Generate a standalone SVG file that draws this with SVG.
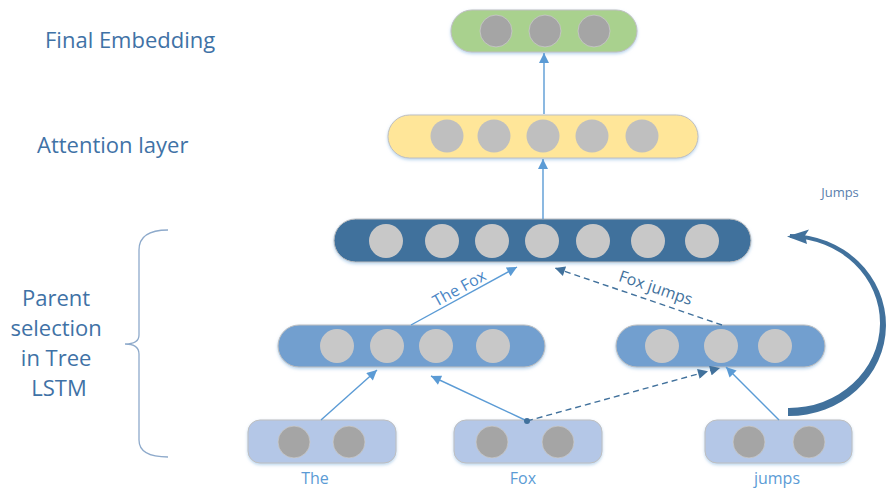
<svg xmlns="http://www.w3.org/2000/svg" width="886" height="489" viewBox="0 0 886 489">
  <defs>
    <filter id="glow" x="-10%" y="-30%" width="120%" height="170%">
      <feDropShadow dx="0" dy="1.5" stdDeviation="1.5" flood-color="#9dc3e6" flood-opacity="0.7"/>
    </filter>
    <marker id="headLight" viewBox="0 0 10 10" refX="10" refY="5" markerWidth="11" markerHeight="10" markerUnits="userSpaceOnUse" orient="auto">
      <path d="M0,0 L10,5 L0,10 Z" fill="#5b9bd5"/>
    </marker>
    <marker id="headDark" viewBox="0 0 10 10" refX="10" refY="5" markerWidth="12" markerHeight="10" markerUnits="userSpaceOnUse" orient="auto">
      <path d="M0,0 L10,5 L0,10 Z" fill="#41719c"/>
    </marker>
  </defs>
  <style>
    .lbl { font-family: "Open Sans", "Liberation Sans", sans-serif; fill: #3f72a6; font-size: 22px; }
    .word { font-family: "Open Sans", "Liberation Sans", sans-serif; fill: #5b9bd5; font-size: 16px; text-anchor: middle; }
    .edge { font-family: "Open Sans", "Liberation Sans", sans-serif; font-size: 16px; text-anchor: middle; }
    .pill { stroke: #bfbfbf; stroke-width: 1; filter: url(#glow); }
    .dotA { fill: #a5a5a5; stroke: #c9c9c9; stroke-width: 0.8; }
    .dotB { fill: #c8c8c8; }
    .solid { fill: none; stroke: #5b9bd5; stroke-width: 1.4; }
    .dash { fill: none; stroke: #41719c; stroke-width: 1.4; stroke-dasharray: 6 4; }
  </style>

  <rect width="886" height="489" fill="#ffffff"/>

  <!-- side captions -->
  <text class="lbl" x="45" y="48">Final Embedding</text>
  <text class="lbl" x="37" y="153">Attention layer</text>
  <text class="lbl" text-anchor="middle">
    <tspan x="59" y="306">Parent</tspan>
    <tspan x="59" y="336">selection</tspan>
    <tspan x="59" y="366">in Tree</tspan>
    <tspan x="59" y="396">LSTM</tspan>
  </text>
  <path d="M168,230 Q139,230 139,250 L139,335 Q139,344 125,344 Q139,344 139,354 L139,440 Q139,457 168,457" fill="none" stroke="#8eaacb" stroke-width="1.3"/>

  <!-- final embedding -->
  <g id="final">
    <rect class="pill" x="451" y="10" width="186" height="42" rx="21" fill="#a9d18e"/>
    <circle class="dotA" cx="496" cy="31" r="16"/>
    <circle class="dotA" cx="545" cy="31" r="16"/>
    <circle class="dotA" cx="594" cy="31" r="16"/>
  </g>

  <!-- attention layer -->
  <g id="attention">
    <rect class="pill" x="388" y="115" width="310" height="43" rx="21.5" fill="#ffe699"/>
    <circle cx="447" cy="136" r="16.5" fill="#bfbfbf"/>
    <circle cx="494" cy="136" r="16.5" fill="#bfbfbf"/>
    <circle cx="543" cy="136" r="16.5" fill="#bfbfbf"/>
    <circle cx="592" cy="136" r="16.5" fill="#bfbfbf"/>
    <circle cx="642" cy="136" r="16.5" fill="#bfbfbf"/>
  </g>

  <!-- root node -->
  <g id="root">
    <rect class="pill" x="334" y="219" width="417" height="43" rx="21.5" fill="#41719c" stroke="#41719c"/>
    <circle class="dotB" cx="386" cy="241" r="17"/>
    <circle class="dotB" cx="442" cy="241" r="17"/>
    <circle class="dotB" cx="492" cy="241" r="17"/>
    <circle class="dotB" cx="542" cy="241" r="17"/>
    <circle class="dotB" cx="593" cy="241" r="17"/>
    <circle class="dotB" cx="648" cy="241" r="17"/>
    <circle class="dotB" cx="702" cy="241" r="17"/>
  </g>

  <!-- "The Fox" parent -->
  <g id="theFox">
    <rect class="pill" x="278" y="325" width="267" height="42" rx="21" fill="#729fcf"/>
    <circle class="dotB" cx="337" cy="346" r="17"/>
    <circle class="dotB" cx="387" cy="346" r="17"/>
    <circle class="dotB" cx="436" cy="346" r="17"/>
    <circle class="dotB" cx="493" cy="346" r="17"/>
  </g>

  <!-- "Fox jumps" parent -->
  <g id="foxJumps">
    <rect class="pill" x="616" y="325" width="209" height="42" rx="21" fill="#729fcf"/>
    <circle class="dotB" cx="662" cy="346" r="17"/>
    <circle class="dotB" cx="721" cy="346" r="17"/>
    <circle class="dotB" cx="775" cy="346" r="17"/>
  </g>

  <!-- word nodes -->
  <g id="wordThe">
    <rect class="pill" x="248" y="420" width="148" height="43" rx="12" fill="#b4c7e7"/>
    <circle class="dotA" cx="294" cy="442" r="16"/>
    <circle class="dotA" cx="349" cy="442" r="16"/>
    <text class="word" x="315" y="484">The</text>
  </g>
  <g id="wordFox">
    <rect class="pill" x="454" y="420" width="148" height="43" rx="12" fill="#b4c7e7"/>
    <circle class="dotA" cx="492" cy="442" r="16"/>
    <circle class="dotA" cx="558" cy="442" r="16"/>
    <text class="word" x="523" y="484">Fox</text>
  </g>
  <g id="wordJumps">
    <rect class="pill" x="705" y="420" width="147" height="43" rx="12" fill="#b4c7e7"/>
    <circle class="dotA" cx="749" cy="442" r="16"/>
    <circle class="dotA" cx="809" cy="442" r="16"/>
    <text class="word" x="777" y="484">jumps</text>
  </g>

  <!-- connectors -->
  <g id="connectors">
    <line class="solid" x1="544" y1="114" x2="544" y2="53" marker-end="url(#headLight)"/>
    <line class="solid" x1="543" y1="219" x2="543" y2="159" marker-end="url(#headLight)"/>
    <line class="solid" x1="411" y1="325" x2="517" y2="267" marker-end="url(#headLight)"/>
    <line class="dash" x1="722" y1="325" x2="555" y2="268" marker-end="url(#headDark)"/>
    <line class="solid" x1="321" y1="420" x2="377" y2="370" marker-end="url(#headLight)"/>
    <line class="solid" x1="527" y1="421" x2="431" y2="376" marker-end="url(#headLight)"/>
    <polyline class="dash" points="527,421 708,371.2 720,368" marker-mid="url(#headDark)" marker-end="url(#headDark)"/>
    <circle cx="527" cy="421" r="3" fill="#41719c"/>
    <line class="solid" x1="779" y1="420" x2="726" y2="367" marker-end="url(#headLight)"/>
    <!-- curved jump arrow: crescent thinning toward its head -->
    <path d="M790,234 A97,91 0 0 1 788,416 L788,408 A91,85 0 0 0 790,238 Z" fill="#41719c"/>
    <path d="M787,236.5 L809,229.5 L805,235.5 L807,244 Z" fill="#41719c"/>
    <text class="edge" x="462" y="293" fill="#4a86c5" transform="rotate(-28.7 462 293)">The Fox</text>
    <text class="edge" x="654" y="293" fill="#41719c" transform="rotate(18.8 654 293)">Fox jumps</text>
    <text x="840" y="197" font-family="Open Sans, Liberation Sans, sans-serif" font-size="13" fill="#5a80ad" text-anchor="middle">Jumps</text>
  </g>
</svg>
